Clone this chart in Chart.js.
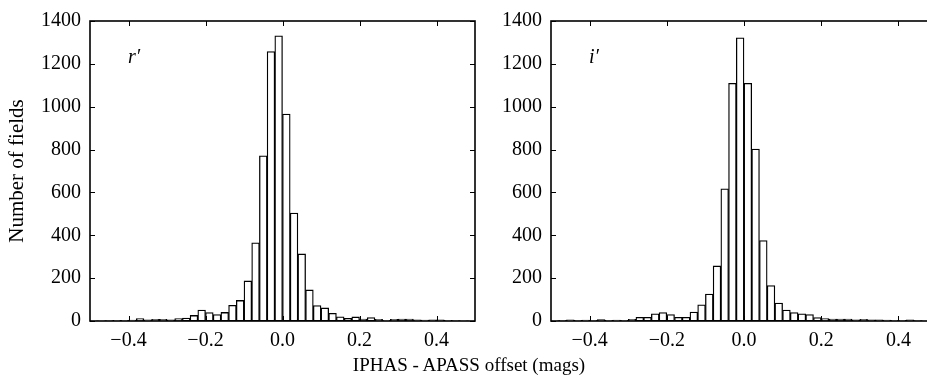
<!DOCTYPE html>
<html>
<head>
<meta charset="utf-8">
<script src="https://cdn.jsdelivr.net/npm/chart.js@4"></script>
<style>
  html, body { margin: 0; padding: 0; background: #fff; }
  body { width: 927px; height: 379px; overflow: hidden; position: relative; }
  .panel { position: absolute; top: 0; }
  #xtitle {
    position: absolute; left: 0; width: 938px; top: 354px;
    text-align: center; font: 19px "Liberation Serif", serif; color: #000;
  }
</style>
</head>
<body>
<canvas id="left" class="panel" width="480" height="379" style="left:0"></canvas>
<canvas id="right" class="panel" width="472" height="379" style="left:470px"></canvas>
<div id="xtitle">IPHAS - APASS offset (mags)</div>
<script>
// centres des bins (largeur 0.02)
const binCenters = [
  -0.49, -0.47, -0.45, -0.43, -0.41, -0.39, -0.37, -0.35, -0.33, -0.31,
  -0.29, -0.27, -0.25, -0.23, -0.21, -0.19, -0.17, -0.15, -0.13, -0.11,
  -0.09, -0.07, -0.05, -0.03, -0.01, 0.01, 0.03, 0.05, 0.07, 0.09,
  0.11, 0.13, 0.15, 0.17, 0.19, 0.21, 0.23, 0.25, 0.27, 0.29,
  0.31, 0.33, 0.35, 0.37, 0.39, 0.41, 0.43, 0.45, 0.47, 0.49
]

const rCounts = [
  1, 1, 2, 3, 3, 4, 11, 6, 8, 8,
  5, 11, 14, 26, 51, 39, 30, 40, 73, 96,
  187, 365, 771, 1257, 1331, 966, 504, 313, 145, 72,
  61, 36, 20, 12, 19, 9, 16, 8, 3, 8,
  9, 9, 5, 4, 5, 5, 3, 2, 1, 1
]

const iCounts = [
  1, 3, 6, 3, 4, 3, 7, 3, 4, 3,
  8, 17, 17, 34, 39, 30, 17, 17, 42, 76,
  126, 257, 617, 1109, 1322, 1109, 802, 375, 165, 84,
  51, 39, 34, 30, 16, 11, 9, 9, 9, 5,
  8, 5, 5, 4, 3, 3, 5, 2, 1, 1
]

const xTicks = [-0.4, -0.2, 0.0, 0.2, 0.4]
const yTicks = [0, 200, 400, 600, 800, 1000, 1200, 1400]

const serif = '"Liberation Serif", "DejaVu Serif", serif'

// cadre + ticks vers l'intérieur (style matplotlib)
const frameTicks = {
  id: 'frameTicks',
  afterDraw(chart, args, opts) {
    const { ctx, chartArea: a, scales } = chart
    ctx.save()
    ctx.strokeStyle = '#000'
    ctx.lineWidth = 1
    ctx.beginPath()
    xTicks.forEach(v => {
      const px = Math.round(scales.x.getPixelForValue(v)) + 0.5
      ctx.moveTo(px, a.bottom); ctx.lineTo(px, a.bottom - 5)
      ctx.moveTo(px, a.top); ctx.lineTo(px, a.top + 5)
    })
    yTicks.forEach(v => {
      const py = Math.round(scales.y.getPixelForValue(v)) + 0.5
      ctx.moveTo(a.left, py); ctx.lineTo(a.left + 5, py)
      ctx.moveTo(a.right, py); ctx.lineTo(a.right - 5, py)
    })
    ctx.stroke()
    ctx.lineWidth = 1.6
    ctx.strokeRect(a.left, a.top, a.right - a.left, a.bottom - a.top)
    // étiquette du panneau
    ctx.fillStyle = '#000'
    ctx.font = 'italic 20px ' + serif
    ctx.textBaseline = 'alphabetic'
    ctx.fillText(opts.label, a.left + 38, a.top + 42)
    ctx.restore()
  }
}

function tickFmt(v) {
  if (Math.abs(v) < 1e-9) return '0.0'
  return v < 0 ? '\u2212' + Math.abs(v).toFixed(1) : v.toFixed(1)
}

function makeHist(canvasId, counts, label, yWidth, showTitle) {
  const ctx = document.getElementById(canvasId).getContext('2d')
  return new Chart(ctx, {
    type: 'bar',
    data: {
      datasets: [{
        data: binCenters.map((x, i) => ({ x: x, y: counts[i] })),
        backgroundColor: '#fff',
        borderColor: '#000',
        borderWidth: 1.3,
        barPercentage: 1,
        categoryPercentage: 1,
        borderSkipped: false
      }]
    },
    options: {
      responsive: false,
      animation: false,
      layout: { padding: { top: 21, right: 5, left: 0, bottom: 0 } },
      plugins: {
        legend: { display: false },
        tooltip: { enabled: false },
        frameTicks: { label: label }
      },
      scales: {
        x: {
          type: 'linear',
          min: -0.5,
          max: 0.5,
          offset: false,
          grid: { display: false, offset: false, drawTicks: false },
          border: { display: false },
          afterBuildTicks: s => { s.ticks = xTicks.map(v => ({ value: v })) },
          afterFit: s => { s.height = 58 },
          ticks: {
            color: '#000',
            padding: 8,
            maxRotation: 0,
            font: { family: serif, size: 20 },
            callback: v => tickFmt(v)
          }
        },
        y: {
          min: 0,
          max: 1400,
          grid: { display: false, drawTicks: false },
          border: { display: false },
          afterBuildTicks: s => { s.ticks = yTicks.map(v => ({ value: v })) },
          afterFit: s => { s.width = yWidth },
          ticks: {
            color: '#000',
            padding: 9,
            font: { family: serif, size: 20 },
            callback: v => String(v)
          },
          title: {
            display: showTitle,
            text: 'Number of fields',
            color: '#000',
            font: { family: serif, size: 21 },
            padding: { top: 5, bottom: 0 }
          }
        }
      }
    },
    plugins: [frameTicks]
  })
}

makeHist('left', rCounts, 'r\u2032', 90, true)
makeHist('right', iCounts, 'i\u2032', 81, false)
</script>
</body>
</html>
